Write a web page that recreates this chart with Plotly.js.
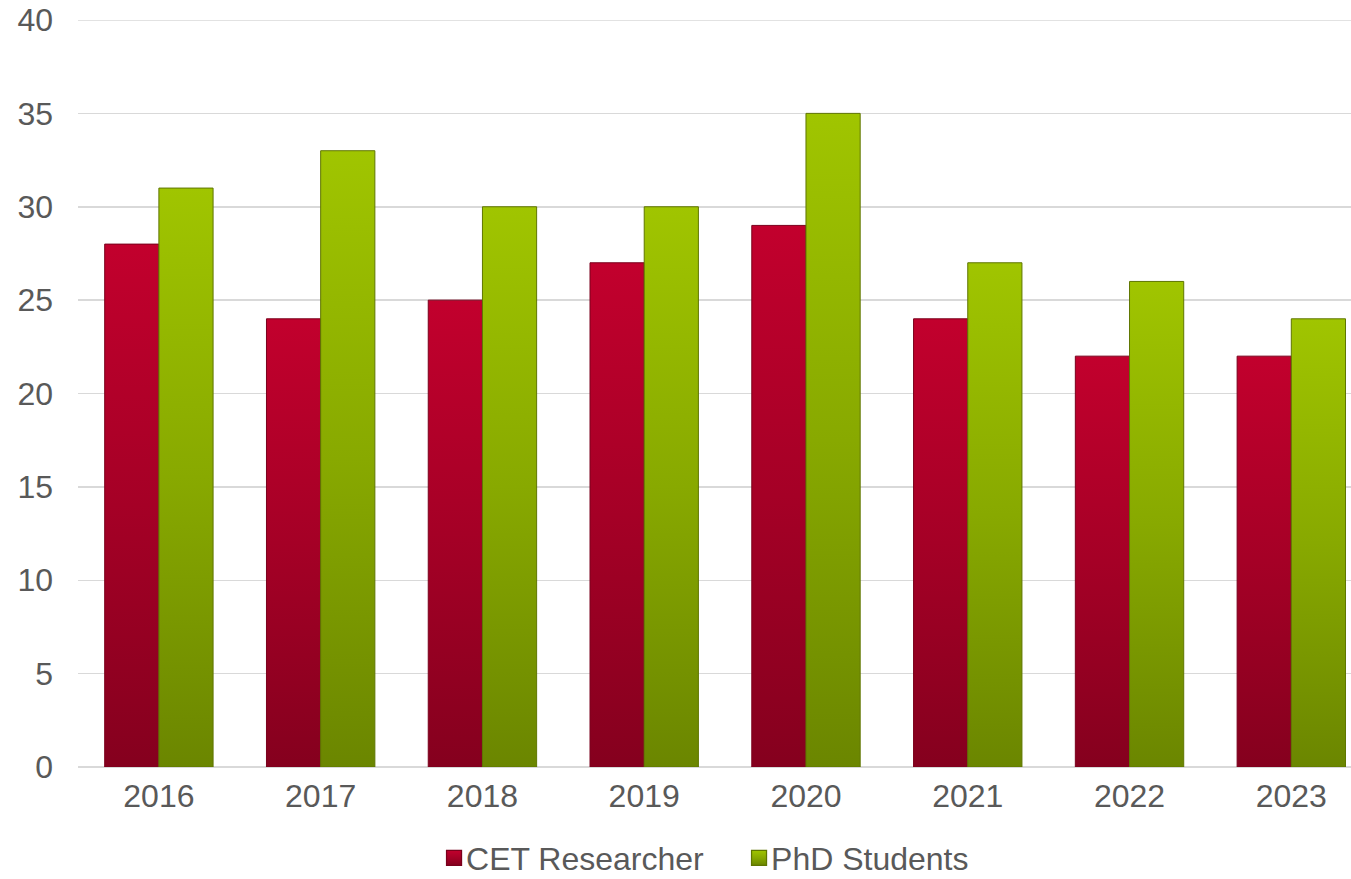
<!DOCTYPE html>
<html>
<head>
<meta charset="utf-8">
<script src="https://cdn.plot.ly/plotly-3.0.1.min.js"></script>
<style>
html,body{margin:0;padding:0;background:#fff;}
#chart{width:1351px;height:879px;}
</style>
</head>
<body>
<div id="chart"></div>
<script>
const years = ['2016','2017','2018','2019','2020','2021','2022','2023'];
const cetResearcher = [28, 24, 25, 27, 29, 24, 22, 22];
const phdStudents = [31, 33, 30, 30, 35, 27, 26, 24];
const yTicks = [0, 5, 10, 15, 20, 25, 30, 35, 40];

const FONT = '"Liberation Sans", Arial, sans-serif';
const TXT = '#595959';

const traces = [
  {type:'bar', name:'CET Researcher', x:years, y:cetResearcher,
   marker:{color:'#a80026', line:{color:'#7a001c', width:1}}},
  {type:'bar', name:'PhD Students', x:years, y:phdStudents,
   marker:{color:'#8aab00', line:{color:'#5f7600', width:1}}}
];

const layout = {
  width:1351, height:879,
  margin:{l:78, r:0, t:20, b:112},
  paper_bgcolor:'#ffffff', plot_bgcolor:'#ffffff',
  barmode:'group', bargap:0.33, bargroupgap:0,
  font:{family:FONT, size:32, color:TXT},
  showlegend:true,
  legend:{orientation:'h', x:0.2734, xanchor:'left', xref:'paper',
          yref:'container', y:0.0239, yanchor:'middle',
          entrywidth:260, entrywidthmode:'pixels',
          font:{family:FONT, size:32, color:TXT}, itemwidth:30, tracegroupgap:0},
  xaxis:{type:'category', range:[-0.5, 7.369], showgrid:false, zeroline:false,
         showline:false, ticks:'', tickfont:{family:FONT, size:32, color:TXT},
         ticklabelstandoff:7, fixedrange:true},
  yaxis:{range:[0,40], tickvals:yTicks, ticktext:yTicks.map(String),
         showgrid:true, gridcolor:'#d9d9d9', gridwidth:1.5,
         zeroline:true, zerolinecolor:'#d9d9d9', zerolinewidth:2,
         showline:false, ticks:'', tickfont:{family:FONT, size:32, color:TXT},
         ticklabelstandoff:24, fixedrange:true},
  shapes:[{type:'line', xref:'paper', yref:'y', x0:0, x1:1, y0:40, y1:40,
           line:{color:'#d9d9d9', width:1.5}, layer:'below'}]
};

Plotly.newPlot('chart', traces, layout, {displayModeBar:false, staticPlot:true}).then(function(gd){
  const svg = gd.querySelector('svg.main-svg');
  const NS = 'http://www.w3.org/2000/svg';
  let defs = svg.querySelector('defs');
  if(!defs){ defs = document.createElementNS(NS,'defs'); svg.insertBefore(defs, svg.firstChild); }
  function grad(id, stops){
    const g = document.createElementNS(NS,'linearGradient');
    g.setAttribute('id', id);
    g.setAttribute('x1','0'); g.setAttribute('y1','0');
    g.setAttribute('x2','0'); g.setAttribute('y2','1');
    stops.forEach(function(s){
      const st = document.createElementNS(NS,'stop');
      st.setAttribute('offset', s[0]);
      st.setAttribute('stop-color', s[1]);
      g.appendChild(st);
    });
    defs.appendChild(g);
  }
  grad('gradRed', [['0','#c2002d'],['0.5','#a50026'],['1','#85001e']]);
  grad('gradGreen', [['0','#a0c500'],['0.5','#88a900'],['1','#6b8600']]);
  const ids = ['gradRed','gradGreen'];
  gd.querySelectorAll('.barlayer .trace').forEach(function(t,i){
    t.querySelectorAll('path').forEach(function(p){ p.style.fill = 'url(#'+ids[i]+')'; });
  });
  gd.querySelectorAll('.legend .traces').forEach(function(t,i){
    t.querySelectorAll('.legendpoints path').forEach(function(p){
      p.style.fill = 'url(#'+ids[i]+')';
      p.setAttribute('transform', 'translate(28,0) scale(1.25)');
    });
  });
});
</script>
</body>
</html>
